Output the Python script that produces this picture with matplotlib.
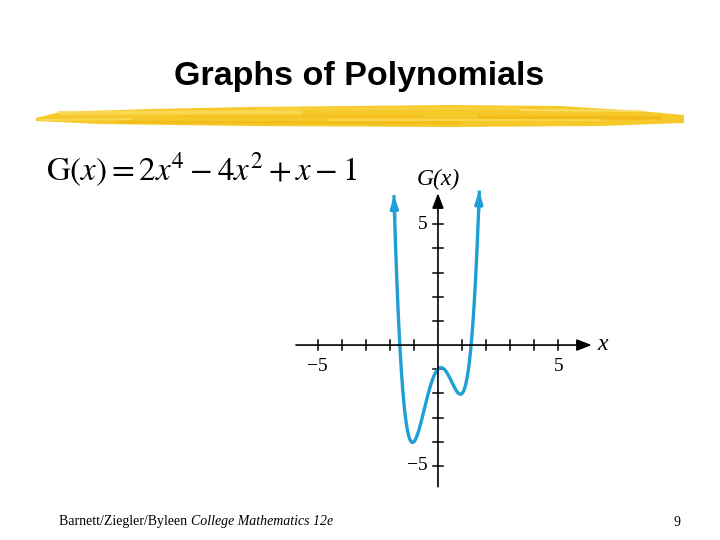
## Slide: graph of G(x) = 2x^4 - 4x^2 + x - 1

import numpy as np
import matplotlib
matplotlib.use('Agg')
import matplotlib.pyplot as plt

# polynomial coefficients (highest power first)
coeffs = [2, 0, -4, 1, -1]
x_left_end = -1.83
x_right_end = 1.72

x_ticks = [-5, -4, -3, -2, -1, 1, 2, 3, 4, 5]
y_ticks = [-5, -4, -3, -2, -1, 1, 2, 3, 4, 5]
x_labels = {-5: '\u22125', 5: '5'}
y_labels = {-5: '\u22125', 5: '5'}

title = 'Graphs of Polynomials'
formula = r'$\mathrm{G}(x) = 2x^4 - 4x^2 + x - 1$'
footer_plain = 'Barnett/Ziegler/Byleen '
footer_italic = 'College Mathematics 12e'
page = '9'

plt.rcParams['mathtext.fontset'] = 'stix'
plt.rcParams['font.family'] = ['Liberation Serif', 'DejaVu Serif']

blue = '#1e9fd6'
fig = plt.figure(figsize=(7.2, 5.4), dpi=100)

# full-slide layer in pixel coordinates for title, brush stroke, text
bg = fig.add_axes([0, 0, 1, 1])
bg.set_xlim(0, 720)
bg.set_ylim(540, 0)
bg.axis('off')

bg.text(359, 76, title, ha='center', va='center', fontsize=24.5,
        fontweight='bold', family='Liberation Sans', color='black')

# yellow brush stroke under the title
stroke_top = [(36, 118), (60, 112), (150, 109), (250, 107), (450, 105),
              (560, 106), (640, 111), (684, 115)]
stroke_bot = [(684, 123), (600, 126), (450, 127), (250, 126), (100, 124), (36, 121)]
pts = np.array(stroke_top + stroke_bot)
bg.fill(pts[:, 0], pts[:, 1], color='#f6c82a', lw=0)
bg.plot([60, 300], [113, 112], color='#fadb58', lw=3, alpha=0.8)
bg.plot([260, 520], [109, 108], color='#f8d23c', lw=2.5, alpha=0.8)
bg.plot([120, 460], [122, 123], color='#efb915', lw=2, alpha=0.7)
bg.plot([480, 660], [117, 118], color='#f0b412', lw=2.5, alpha=0.7)
bg.plot([330, 600], [120, 120], color='#fbdc55', lw=1.5, alpha=0.7)
bg.plot([180, 420], [116, 116], color='#f3bf1d', lw=2, alpha=0.6)
bg.plot([520, 640], [110, 111], color='#fbe070', lw=1.5, alpha=0.8)
bg.plot([40, 130], [120, 119], color='#fadb58', lw=1.5, alpha=0.8)

bg.text(46, 170, formula, ha='left', va='center', fontsize=23.8)

t1 = bg.text(59, 522, footer_plain, ha='left', va='center', fontsize=10)
fig.canvas.draw()
ext = t1.get_window_extent()
x2 = bg.transData.inverted().transform((ext.x1, ext.y0))[0]
bg.text(x2, 522, footer_italic, ha='left', va='center', fontsize=10, style='italic')
bg.text(677, 522, page, ha='center', va='center', fontsize=10)

# graph axes, scaled so one unit is about 24 px
ax = fig.add_axes([0.4011, 0.0835, 0.4344, 0.5908])
ax.set_xlim(-6.2, 6.8)
ax.set_ylim(-6.2, 7.0)
ax.axis('off')

head = dict(arrowstyle='-|>,head_length=0.9,head_width=0.35', color='black',
            lw=1.2, shrinkA=0, shrinkB=0)
ax.annotate('', xy=(6.39, 0), xytext=(-5.9, 0), arrowprops=head)
ax.annotate('', xy=(0, 6.28), xytext=(0, -5.86), arrowprops=head)

tk = 0.2
for t in x_ticks:
    ax.plot([t, t], [-tk, tk], color='black', lw=1.1)
for t in y_ticks:
    ax.plot([-tk, tk], [t, t], color='black', lw=1.1)

for t, s in x_labels.items():
    ax.text(t, -0.88, s, ha='center', va='center', fontsize=14)
for t, s in y_labels.items():
    ax.text(-0.42, t, s, ha='right', va='center', fontsize=14)
ax.text(0, 6.85, 'G(x)', ha='center', va='center', fontsize=17, style='italic')
ax.text(6.62, 0.02, 'x', ha='left', va='center', fontsize=17, style='italic')

x = np.linspace(x_left_end, x_right_end, 500)
y = np.polyval(coeffs, x)
ax.plot(x, y, color=blue, lw=2.4, solid_capstyle='butt')
tip = dict(arrowstyle='-|>,head_length=0.7,head_width=0.22', color=blue,
           lw=2.4, shrinkA=0, shrinkB=0)
for xe, xb in [(x_left_end, x_left_end + 0.03), (x_right_end, x_right_end - 0.03)]:
    ax.annotate('', xy=(xe, np.polyval(coeffs, xe)),
                xytext=(xb, np.polyval(coeffs, xb)), arrowprops=tip)

fig.savefig('out.png', dpi=100)
